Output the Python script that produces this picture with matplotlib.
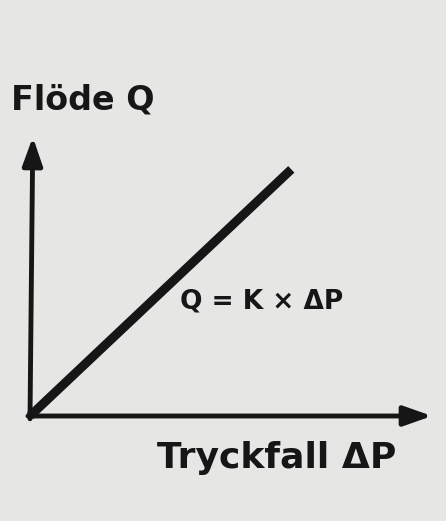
import numpy as np
import matplotlib.pyplot as plt

# flow vs. pressure drop, linear relation Q = K * dP
dp = np.array([0.0, 6.5])
K = 1.36
q = K * dp

x_label = 'Tryckfall ΔP'
y_label = 'Flöde Q'
formula = 'Q = K × ΔP'

plt.rcParams['font.family'] = ['DejaVu Sans']
ink = '#161616'

fig = plt.figure(figsize=(4.46, 5.21), dpi=100)
fig.patch.set_facecolor('#e6e6e4')

ax = fig.add_axes([30 / 446, 105 / 521, 402 / 446, 279 / 521])
ax.set_facecolor('none')
ax.set_xlim(0, 10)
ax.set_ylim(0, 10)
ax.axis('off')

# axes drawn as arrows
arrow = dict(arrowstyle='-|>,head_length=1.7,head_width=0.6', lw=3.5,
             color=ink, shrinkA=0, shrinkB=0)
ax.annotate('', xy=(10, 0), xytext=(-0.05, 0), arrowprops=arrow,
            annotation_clip=False)
ax.annotate('', xy=(0.07, 10), xytext=(0, -0.1), arrowprops=arrow,
            annotation_clip=False)

ax.plot(dp, q, color=ink, lw=6.5, solid_capstyle='butt', clip_on=False)

fig.text(180 / 446, 1 - 308 / 521, formula, fontsize=19, fontweight='bold',
         color=ink, ha='left', va='baseline')
fig.text(157 / 446, 1 - 468 / 521, x_label, fontsize=26, fontweight='bold',
         color=ink, ha='left', va='baseline')
fig.text(11 / 446, 1 - 110 / 521, y_label, fontsize=24, fontweight='bold',
         color=ink, ha='left', va='baseline')

fig.savefig('out.png', dpi=100, facecolor=fig.get_facecolor())
